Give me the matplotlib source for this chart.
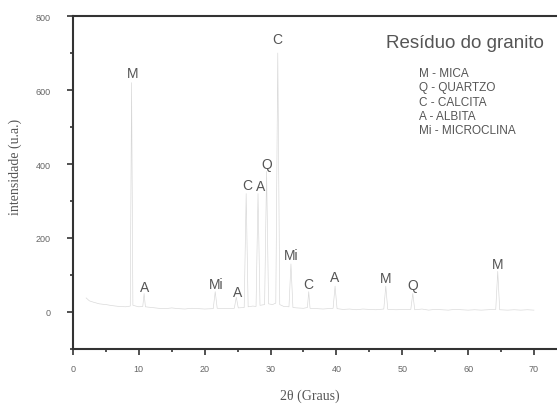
import matplotlib.pyplot as plt

# XRD pattern (2theta in degrees, intensity in a.u.)
two_theta = [2.0, 2.5, 3.2, 4.0, 5.0, 6.0, 7.0, 8.0, 8.7, 8.9, 9.1, 10.0, 10.6, 10.8, 11.0,
             12.0, 13.0, 14.0, 15.0, 16.0, 17.0, 18.0, 19.0, 20.0, 21.3, 21.6, 21.9, 23.0,
             24.5, 24.8, 25.1, 26.0, 26.3, 26.6, 27.3, 27.8, 28.1, 28.4, 29.1, 29.4, 29.7,
             30.3, 30.8, 31.1, 31.4, 32.0, 32.8, 33.1, 33.4, 34.0, 35.0, 35.6, 35.8, 36.0,
             37.0, 38.0, 39.5, 39.8, 40.1, 41.0, 42.0, 43.0, 44.0, 45.0, 46.0, 47.2, 47.5,
             47.8, 49.0, 51.3, 51.6, 51.9, 53.0, 54.0, 55.0, 56.0, 57.0, 58.0, 59.0, 60.0,
             61.0, 62.0, 63.0, 64.2, 64.5, 64.8, 66.0, 67.0, 68.0, 69.0, 70.0]
intensity = [38, 30, 26, 22, 20, 17, 15, 14, 16, 620, 18, 14, 15, 50, 14,
             12, 10, 9, 11, 9, 8, 10, 9, 8, 9, 55, 10, 9,
             10, 40, 11, 12, 320, 14, 16, 15, 320, 18, 20, 380, 22,
             20, 24, 700, 20, 15, 14, 130, 12, 11, 10, 12, 55, 10,
             9, 8, 10, 70, 9, 7, 8, 6, 8, 7, 6, 8, 70,
             7, 6, 7, 50, 6, 8, 5, 7, 6, 5, 7, 6, 5,
             6, 5, 6, 7, 110, 6, 5, 6, 5, 6, 5]

# phase labels: text, 2theta, height
phase_text = ['M', 'A', 'Mi', 'A', 'C', 'A', 'Q', 'C', 'Mi', 'C', 'A', 'M', 'Q', 'M']
phase_x = [9.0, 10.9, 21.8, 25.0, 26.4, 28.5, 29.4, 31.0, 33.1, 35.8, 39.8, 47.5, 51.6, 64.5]
phase_y = [646, 68, 75, 54, 343, 340, 400, 738, 154, 75, 95, 92, 73, 130]

legend_lines = ['M - MICA', 'Q - QUARTZO', 'C - CALCITA', 'A - ALBITA', 'Mi - MICROCLINA']

fig = plt.figure(figsize=(5.57, 4.06), dpi=100)
ax = fig.add_axes([0.131, 0.138, 0.869, 0.820])

ax.plot(two_theta, intensity, color='#d6d6d6', linewidth=0.45)

for t, x, y in zip(phase_text, phase_x, phase_y):
    ax.text(x, y, t, ha='center', va='center', fontsize=10, color='#555555',
            family='Liberation Sans')

ax.text(0.647, 0.922, 'Resíduo do granito', transform=ax.transAxes, fontsize=13.5,
        color='#555555', family='Liberation Sans', va='center')
for i, line in enumerate(legend_lines):
    ax.text(0.715, 0.829 - i * 0.043, line, transform=ax.transAxes, fontsize=8.5,
            color='#555555', family='Liberation Sans', va='center')

ax.set_xlim(0, 73.5)
ax.set_ylim(-100, 800)
ax.set_xticks(range(0, 71, 10))
ax.set_xticks(range(5, 71, 10), minor=True)
ax.set_yticks(range(0, 801, 200))
ax.set_yticks(range(-100, 801, 100), minor=True)
ax.tick_params(which='both', direction='out', color='#333333', labelcolor='#666666',
               labelsize=6.5, width=1.2)
ax.tick_params(which='major', length=4)
ax.tick_params(which='minor', length=2.5)
ax.tick_params(axis='y', which='major', pad=12)
ax.tick_params(axis='x', which='major', pad=7)
for lab in ax.get_xticklabels() + ax.get_yticklabels():
    lab.set_family('Liberation Sans')

ax.spines['right'].set_visible(False)
for s in ['left', 'top', 'bottom']:
    ax.spines[s].set_color('#333333')
    ax.spines[s].set_linewidth(1.5)

ax.set_xlabel('2θ (Graus)', family='Liberation Serif', fontsize=10, color='#555555')
ax.set_ylabel('intensidade (u.a.)', family='Liberation Serif', fontsize=10, color='#555555')
ax.xaxis.set_label_coords(0.49, -0.12)
ax.yaxis.set_label_coords(-0.105, 0.55)

fig.savefig('out.png', dpi=100)
